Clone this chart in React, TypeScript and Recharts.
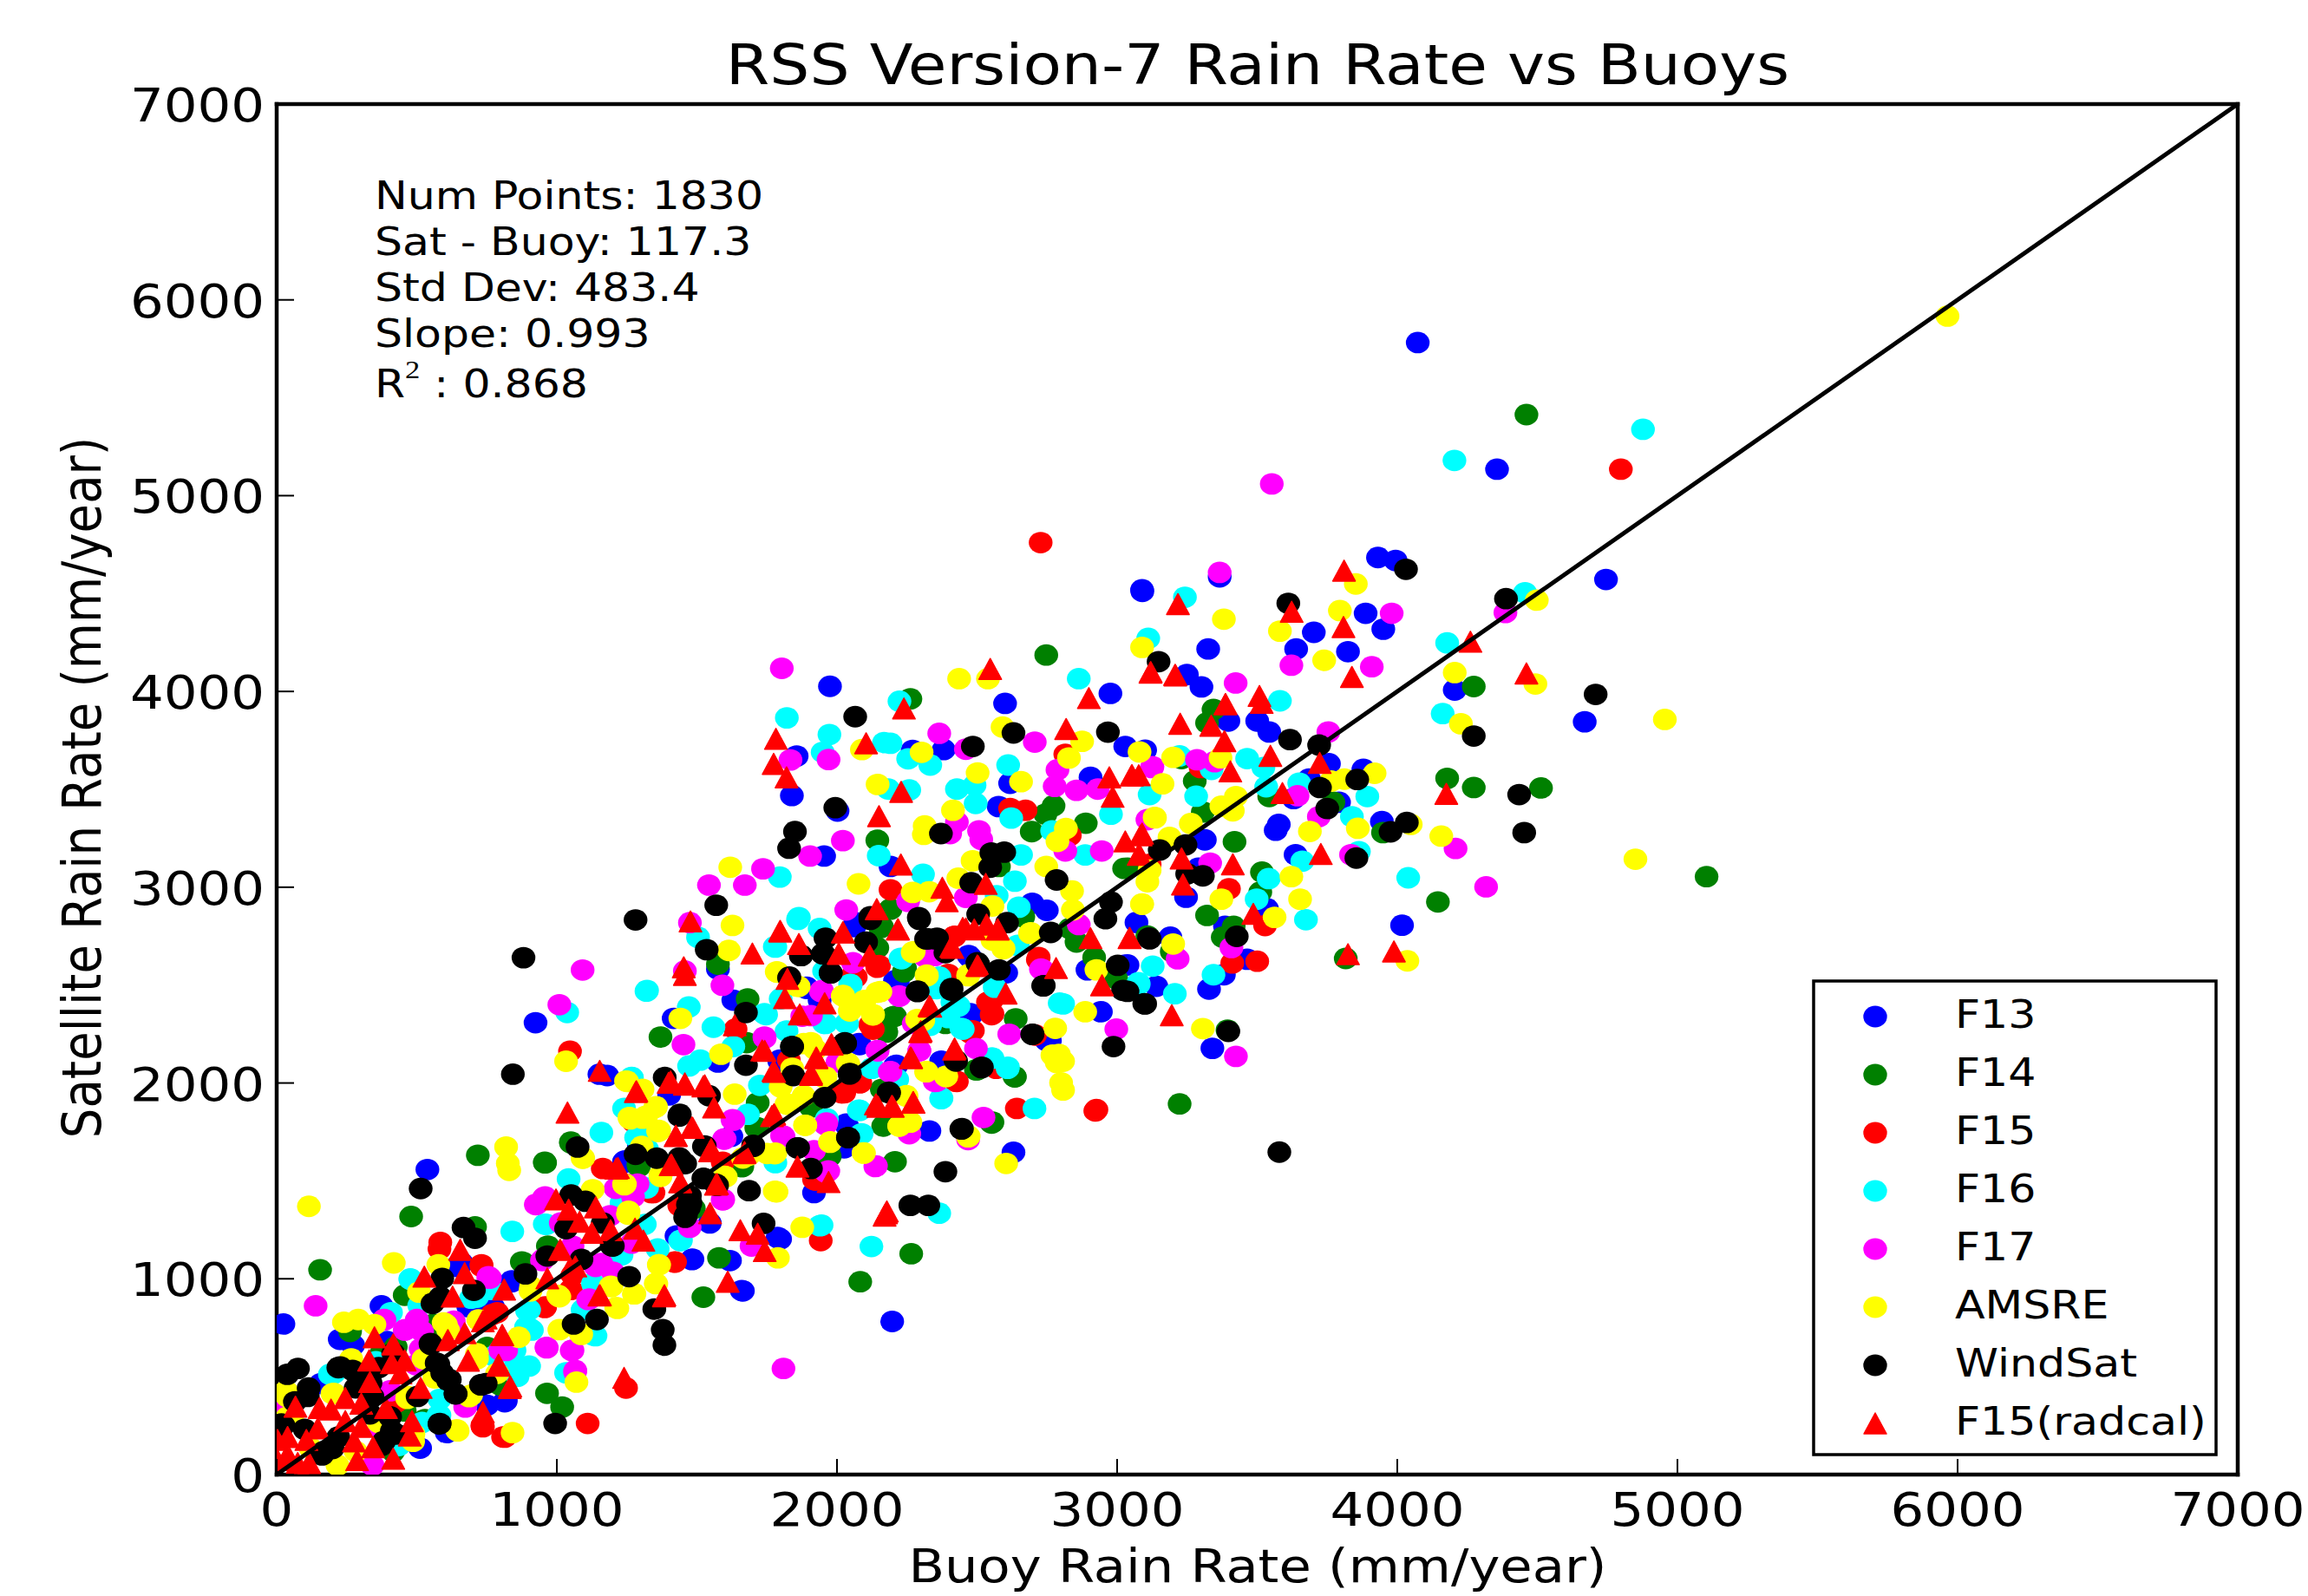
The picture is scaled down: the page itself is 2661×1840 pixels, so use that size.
import React from "react";
import { ScatterChart, Scatter, XAxis, YAxis, Customized } from "recharts";

type Pt = [number, number];

const axisTicks = [0, 1000, 2000, 3000, 4000, 5000, 6000, 7000];
const statLines = ["Num Points: 1830", "Sat - Buoy: 117.3", "Std Dev: 483.4", "Slope: 0.993"];
const diagonal = [{ x: 0, y: 0 }, { x: 7000, y: 7000 }];

const f13: Pt[] = [
  [4073,5782],[4356,5135],[3931,4684],[3994,4669],[4745,4572],[3090,4511],[3366,4585],[3089,4519],[3887,4399],[3950,4318],[3702,4302],[3639,4217],[3824,4203],[3325,4217],[3249,4086],[3301,4023],[3397,3849],[3500,3849],[3543,3793],[4205,4007],[4669,3845],[3100,3700],[3756,3631],[3879,3602],[3685,3552],[3630,3453],[3792,3434],[3577,3321],[3566,3291],[3313,3242],[3290,3097],[3246,2949],[3945,3335],[3637,3166],[3535,2890],[3069,2820],[3190,2745],[3385,2800],[4017,2806],[3464,2632],[3037,2603],[3140,2494],[3381,2553],[3328,2480],[3340,2177],
  [1975,4026],[2600,3939],[2976,3990],[1856,3670],[1839,3468],[1954,3159],[2270,3699],[2381,3703],[2618,3531],[2577,3412],[2905,3561],[3029,3719],[2191,3106],[2002,3389],[1417,2330],[1575,2582],[1630,2423],[2065,2819],[2697,2918],[2749,2882],[2476,2641],[2476,2354],[2942,2364],[2894,2578],[3025,2601],[2207,2522],[1891,2483],[2081,2196],[2207,2087],[2373,2101],[1796,2117],[1575,2107],[1401,1939],[2330,1755],[2033,1790],[2017,1672],[2630,1646],[2760,2216],[1918,1440],[1243,1602],[1180,2038],
  [538,1558],[924,2308],[1152,2045],[24,769],[374,862],[231,692],[273,661],[814,372],[512,135],[613,223],[756,871],[839,985],[660,1081],[1240,1598],[225,691],[158,465],[643,1063],[684,857],[751,354],[395,679],[607,214],
  [2197,782],[1660,940],[1482,1098],[1797,1203],[1484,1100],[1618,1093],[1664,938],[1546,1285],[1427,1219],[1788,1211],[1241,1595],[1293,1684],[1623,1728],[818,377],[839,990],[772,857],
  [2062,2799],[1892,2489],[2217,2518],[2470,2651],[2480,2349],[2604,2563],[2748,2216],[2036,1780],[2212,2090],[2372,2112],[1794,2112],[2078,2201],[1938,2422],[2026,1669],
];

const f14: Pt[] = [
  [4461,5414],[3344,3908],[3321,3839],[3230,3657],[3277,3542],[3543,3463],[3306,3384],[3772,3434],[3419,3232],[4273,4025],[4178,3556],[4273,3509],[4513,3507],[3949,3279],[3517,3077],[3511,2975],[3321,2856],[3416,2800],[3377,2745],[3195,2672],[3108,2751],[4145,2925],[3816,2636],[5104,3054],[3394,2270],[3037,3097],
  [2747,4186],[2262,3962],[2144,3240],[2773,3416],[2744,3373],[2888,3327],[2695,3284],[3025,3096],[2578,3106],[2160,2799],[2191,2888],[1575,2607],[1681,2429],[1370,2235],[2199,2338],[2175,2265],[2239,2568],[2144,2690],[2665,2849],[2855,2720],[2918,2641],[2997,2532],[2831,2789],[2638,2328],[1678,2206],[2496,2067],[2634,2032],[1717,1899],[1907,1879],[1712,1771],[2168,1784],[2555,1800],[3223,1893],[2207,1598],[1970,1642],[1291,1583],[1662,1573],[2160,1968],
  [718,1631],[155,1046],[480,1318],[957,1595],[1051,1694],[473,924],[262,731],[881,1081],[965,415],[1019,345],[708,1265],[1523,906],[1579,1107],[2083,985],[425,652],[457,916],[374,620],[416,118],[751,650],[529,281],[457,325],[798,458],[560,768],
  [2265,1128],[1050,1698],[958,1592],[875,1086],[968,1167],[1293,1573],[1489,1359],[1659,1573],[1716,1772],
  [2155,2792],[2139,2688],[2243,2585],[2207,2341],[2176,2260],[2635,2031],[2501,2068],[2165,1780],[2552,1795],[1974,1625],[1907,1876],[2170,1957],[2387,2304],
];

const f15: Pt[] = [
  [4798,5135],[2727,4760],[2922,1857],[3298,3611],[3399,2992],[3528,2804],[3411,2613],[3500,2622],[3116,3117],
  [2191,2987],[2618,3402],[2673,3393],[2831,3264],[2815,3679],[2420,2750],[2405,2512],[2720,2641],[2539,2413],[2555,2354],[2428,2008],[2081,2002],[2017,1949],[2642,1870],[2926,1864],[2057,2552],[2144,2591],[2128,2275],[2476,2255],[1923,1504],[1338,1444],[1275,1800],[1828,2117],[1638,2275],
  [1047,2162],[584,1186],[731,1072],[1247,442],[734,249],[814,191],[1110,261],[1164,1563],[957,853],[1942,1195],[1420,1085],[1337,1440],[770,818],[581,1152],[731,1063],[736,244],[808,192],[787,827],[426,369],[13,236],
  [1345,1440],[1422,1086],[958,857],[1050,945],[1056,1019],[1592,1595],[1437,1374],
  [2418,2747],[2717,2629],[2150,2600],[2067,2541],[2552,2422],[2552,2349],[2119,2297],[2485,2267],[2423,2009],[2083,2002],[2026,1950],[1918,1507],[2397,2555],[2707,2245],[2568,2075],
];

const f16: Pt[] = [
  [4877,5339],[4204,5180],[4456,4504],[4178,4248],[3242,4481],[3111,4271],[4162,3887],[3581,3952],[3223,3671],[3337,3602],[3464,3657],[3522,3611],[3532,3513],[3650,3532],[3116,3473],[3282,3465],[3838,3360],[3893,3463],[3863,3182],[3661,3133],[3541,3044],[3498,2939],[3674,2834],[4039,3048],[3127,2597],[3344,2553],[3077,2504],[3206,2456],
  [2863,4065],[2223,3950],[1821,3865],[1973,3780],[1949,3689],[2168,3739],[2191,3735],[2254,3656],[2333,3624],[2611,3624],[2428,3501],[2491,3521],[2495,3428],[2183,3501],[2258,3497],[2622,3353],[2978,3373],[2768,3288],[2886,3165],[2149,3161],[2657,3165],[1796,3052],[2307,3066],[2635,3031],[2570,2957],[2649,2898],[1864,2845],[1938,2789],[1504,2744],[1780,2694],[1322,2473],[2231,2635],[1954,2572],[2049,2502],[1471,2388],[1741,2354],[1559,2285],[1820,2265],[1954,2305],[2033,2305],[2412,2413],[2397,2334],[2444,2279],[2349,2483],[2807,2404],[3076,2512],[1630,2186],[1512,2117],[1472,2087],[1725,1988],[2128,2077],[2215,2018],[2081,1860],[2373,1923],[2705,1870],[2610,2081],[2555,2127],[1682,1840],[2088,1741],[1780,1593],[1322,1662],[1267,2028],[1322,1464],[1283,1721],[2333,2295],[2365,1335],
  [1037,2360],[1320,2469],[1159,1747],[1268,2027],[1042,1510],[841,1242],[477,999],[408,827],[957,1279],[894,836],[901,748],[853,555],[1033,520],[577,302],[756,958],[1240,1870],[1945,1274],[1440,1195],[190,512],[715,906],[1129,713],[1129,976],[478,997],[204,517],[509,864],[694,901],[581,303],[519,266],[436,148],[354,576],[777,605],[581,384],
  [2123,1165],[1939,1271],[901,842],[890,753],[849,635],[901,554],[860,502],[1092,842],[1138,709],[911,738],[963,1278],[767,945],[1231,1122],[1360,1152],[1314,1278],[1443,1196],[1231,1388],[1293,1728],[1293,1477],
  [1778,2696],[1861,2836],[2227,2637],[1747,2349],[1959,2304],[2036,2304],[2047,2504],[2434,2393],[2398,2341],[2449,2275],[2563,2489],[2609,2075],[2552,2127],[2372,1920],[2078,1861],[2124,2075],[1964,1817],[2356,2482],[1799,2430],[2795,2408],[2645,2703],[2366,2541],
];

const f17: Pt[] = [
  [3552,5060],[3366,4608],[3980,4399],[3622,4134],[3909,4126],[3423,4043],[3754,3793],[4386,4403],[3124,3611],[3285,3651],[3348,3641],[3644,3467],[3720,3360],[3108,3345],[4208,3198],[3332,3123],[3835,3166],[4317,3002],[3408,2692],[3216,2634],[3424,2136],
  [1803,4118],[2365,3786],[2706,3741],[1834,3650],[1970,3652],[2460,3705],[2787,3600],[2777,3515],[2855,3495],[2931,3501],[3126,3616],[2428,3333],[2507,3288],[2515,3244],[2404,3274],[2815,3185],[2945,3185],[2021,3238],[1904,3159],[1543,3011],[1671,3011],[1736,3094],[2033,2884],[2254,2928],[2460,2948],[1475,2819],[1457,2572],[1591,2499],[2349,2651],[2223,2443],[1946,2473],[1907,2344],[1452,2196],[1741,2235],[2615,2249],[2496,2176],[2294,2166],[2144,2166],[2188,2057],[2349,2008],[2002,2107],[2863,2809],[2728,2582],[2997,2275],[2523,1824],[2258,1741],[2468,1711],[1630,1810],[1599,1715],[1962,1796],[1804,1731],[2139,1577],[1962,1543],[1594,1405],[1251,1484],
  [1092,2577],[1009,2400],[139,862],[383,792],[501,792],[459,740],[954,1414],[925,1379],[1809,542],[964,647],[1053,634],[1065,524],[1627,1812],[1247,1467],[756,1011],[950,1099],[342,48],[673,345],[1116,897],[819,634],[1157,1072],[385,790],[500,790],[457,738],[519,731],[514,642],[756,1004],[632,783],[674,354],[333,59],[18,354],[405,428],[798,635],[498,561],[369,236],
  [927,1381],[958,1418],[947,1093],[761,1004],[1112,894],[963,650],[1056,635],[816,643],[1066,532],[1159,1078],[1200,1034],[1138,1063],[1474,1263],[1597,1713],[1592,1403],[1210,1462],[1288,1484],[1272,1418],[1695,1167],[1267,1182],[1190,1322],[1014,1285],[1056,1167],
  [2222,2445],[1943,2467],[1876,2341],[2057,2614],[2315,2644],[2274,2304],[2145,2164],[2294,2164],[2191,2058],[1809,1728],[1742,2230],[2733,2578],[2356,2009],[2137,1573],[1969,1551],[1959,1787],[2010,2112],[1918,1654],
];

const amsre: Pt[] = [
  [5964,5917],[4498,4466],[4493,4038],[4955,3857],[4850,3143],[4036,2624],[3852,4549],[3381,4369],[3795,4413],[3581,4308],[3739,4159],[3089,4225],[4205,4096],[3080,3691],[3200,3663],[3369,3661],[3162,3528],[3424,3463],[3372,3414],[3413,3390],[3135,3354],[3263,3325],[3187,3255],[3764,3542],[3811,3552],[3919,3582],[4227,3835],[3688,3285],[3859,3301],[4048,3321],[4157,3261],[3622,3054],[3653,2939],[3116,3087],[3108,3028],[3089,2913],[3372,2939],[3562,2846],[3200,2710],[3306,2278],
  [2436,4065],[2539,4065],[2591,3818],[2875,3745],[2502,3584],[2657,3539],[2414,3393],[2145,3525],[2089,3703],[2302,3689],[2828,3660],[3134,3357],[2313,3313],[2310,3270],[2817,3300],[2787,3234],[2484,3135],[1619,3102],[2077,3017],[2747,3106],[2433,3046],[2270,2973],[2329,2977],[2555,2904],[1627,2805],[1614,2677],[2839,2981],[2842,2884],[3089,2914],[2689,2765],[2594,2686],[2555,2730],[2270,2667],[2321,2548],[2468,2548],[1785,2568],[1863,2493],[2022,2447],[2144,2463],[2096,2413],[2046,2368],[2128,2348],[1441,2330],[2926,2578],[2779,2279],[2886,2364],[2286,2324],[1907,2206],[2038,2101],[1586,2147],[2792,2146],[2807,2111],[2807,1964],[1251,2008],[1306,1968],[1354,1879],[1259,1824],[1306,1820],[1362,1757],[1635,1943],[2318,2057],[2389,2032],[2247,1933],[1820,1893],[1886,1784],[2223,1781],[2262,1800],[1975,1697],[1780,1642],[2096,1642],[2604,1589],[2468,1725],[1599,1523],[1784,1444],[1243,1484],[1256,1345],[1370,1523],[1686,1632],[1954,2028],
  [115,1370],[418,1081],[819,1673],[825,1589],[830,1554],[1033,2111],[240,778],[291,792],[349,766],[508,932],[1092,1616],[577,1072],[1247,2010],[1351,1875],[1261,1822],[1362,1752],[1005,915],[908,959],[1240,1484],[1254,1330],[1192,962],[1275,923],[1212,853],[1364,1072],[1353,976],[1789,1107],[1009,740],[1085,722],[1070,472],[842,214],[646,223],[864,701],[715,617],[604,766],[563,494],[687,398],[487,170],[466,389],[266,591],[204,415],[217,48],[38,398],[38,293],[121,135],[596,775],[720,790],[266,569],[199,413],[34,428],[55,281],[467,399],[524,591],[643,229],[488,207],[282,118],[694,406],[364,266],[715,591],[612,738],
  [1876,1263],[1094,1617],[1128,1455],[1241,1480],[1255,1332],[1365,1071],[1355,975],[1195,960],[1277,923],[1216,849],[906,938],[1009,908],[1087,716],[787,517],[1262,1817],[1319,1831],[1365,1758],[1303,1676],[1370,1529],[1603,1521],[1664,1617],[1778,1447],[1778,1639],
  [2021,2445],[2155,2467],[2047,2371],[2129,2349],[2098,2422],[2274,2671],[2320,2551],[1787,2566],[1856,2496],[2594,2688],[2692,2767],[2470,2555],[2308,2319],[1887,1784],[1976,1699],[1750,1640],[2095,1643],[1783,1445],[2222,1780],[2253,1809],[2248,1935],[2320,2058],[2390,2035],[2041,2097],[1959,2031],[1799,1979],[1825,1891],[1881,1935],[1881,2201],[1923,2171],[1840,2075],[2769,2142],[2784,2105],[2800,2001],[2470,1728],
];

const windsat: Pt[] = [
  [3579,1647],[4708,3985],[4031,4624],[4388,4474],[3611,4450],[3148,4152],[3617,3754],[3721,3726],[4273,3772],[3857,3550],[3724,3509],[3750,3402],[4435,3473],[4453,3279],[4034,3331],[3976,3283],[3854,3149],[3244,3216],[3152,3190],[3250,3068],[3306,3058],[3114,2741],[3427,2749],[3097,2405],[3037,2468],[3397,2264],
  [2065,3871],[2630,3788],[2485,3719],[2967,3792],[1994,3406],[1850,3284],[1829,3199],[2371,3274],[2551,3175],[2597,3179],[2547,3102],[2784,3037],[1569,2908],[1281,2833],[2479,3023],[2504,2862],[2607,2819],[2978,2924],[2958,2839],[2763,2769],[2292,2845],[2119,2849],[1535,2681],[1959,2740],[2104,2720],[1872,2651],[1951,2661],[1978,2562],[2318,2736],[2357,2740],[2389,2670],[2504,2607],[2578,2578],[3116,2736],[3002,2601],[3021,2473],[3100,2404],[2738,2497],[2409,2483],[2288,2469],[1829,2536],[1675,2360],[2028,2206],[1840,2186],[1675,2091],[2517,2081],[2698,2249],[2423,2117],[2987,2186],[1844,2038],[2046,2048],[2185,1953],[1956,1925],[1385,2028],[1543,1935],[1439,1840],[1528,1678],[1701,1682],[1859,1668],[2040,1721],[2446,1767],[1907,1563],[1281,1636],[1357,1616],[1441,1612],[1523,1513],[1567,1484],[1686,1450],[1475,1424],[1472,1365],[2387,1547],[2262,1375],[2326,1375],
  [881,2640],[843,2045],[514,1461],[667,1262],[708,1207],[591,1002],[584,906],[704,941],[556,874],[227,550],[76,542],[38,512],[114,442],[1074,1673],[1051,1428],[1102,1396],[1033,1256],[966,1116],[1088,1099],[888,1025],[1196,1169],[1258,1011],[1461,1326],[1468,1379],[1738,1283],[1060,769],[1143,792],[1348,845],[1378,740],[1384,661],[994,261],[729,459],[639,412],[582,261],[549,669],[577,564],[618,485],[286,521],[342,398],[411,223],[383,170],[197,135],[162,100],[65,372],[17,258],[100,231],[335,468],[111,399],[24,251],[220,546],[271,532],[364,546],[282,443],[323,428],[416,620],[550,665],[571,569],[591,517],[612,480],[638,413],[730,458],[503,399],[581,258],[405,295],[426,207],[374,148],[199,133],[168,118],[220,192],[333,310],
  [1164,1285],[1200,1167],[1437,1617],[1458,1588],[1525,1511],[1477,1388],[1458,1314],[1525,1676],[1701,1676],[1572,1477],[746,465],[1437,1831],
  [2119,2836],[2294,2836],[2103,2718],[1871,2651],[1949,2659],[1977,2563],[1830,2541],[2325,2736],[2351,2736],[2387,2666],[2501,2614],[2408,2474],[2287,2467],[2736,2496],[1839,2186],[2029,2201],[2045,2046],[2425,2112],[2516,2078],[2186,1950],[2697,2248],[2039,1721],[2444,1765],[1861,1669],
];

const f15Radcal: Pt[] = [
  [3810,4617],[3217,4446],[3623,4407],[3808,4329],[3119,4096],[3208,4082],[3838,4074],[4261,4254],[4461,4092],[3508,3977],[3516,3942],[3386,3934],[3225,3835],[3336,3825],[3383,3746],[3547,3671],[3404,3592],[3723,3635],[3053,3572],[3077,3572],[3590,3481],[4175,3477],[3084,3265],[3077,3166],[3230,3147],[3413,3117],[3727,3170],[3235,3014],[3486,2864],[3045,2741],[3195,2346],[3824,2658],[3988,2672],
  [2547,4115],[3120,4099],[3207,4085],[2899,3966],[2239,3913],[1782,3758],[2104,3735],[1774,3630],[1820,3561],[2818,3808],[2229,3487],[2150,3363],[3387,3936],[2972,3561],[3052,3571],[2984,3462],[3029,3234],[3089,3274],[3079,3169],[2228,3116],[2376,2997],[2392,2928],[2531,3017],[2142,2888],[1477,2825],[1798,2773],[2022,2769],[2218,2785],[1864,2710],[1698,2661],[2006,2661],[2117,2651],[2460,2789],[2534,2809],[2574,2785],[2412,2690],[2905,2740],[3044,2740],[1453,2591],[1457,2552],[2504,2597],[2782,2587],[1823,2532],[1814,2433],[1956,2407],[1867,2350],[1635,2295],[2333,2390],[2602,2457],[2946,2499],[2299,2265],[1981,2196],[1733,2166],[1927,2127],[1908,2048],[1776,2057],[2265,2127],[2420,2176],[1528,1988],[1457,1998],[1406,2008],[1284,1958],[1561,1875],[1776,1840],[1425,1731],[1485,1771],[2147,1879],[2199,1879],[2273,1899],[1551,1662],[1670,1642],[1859,1573],[1409,1583],[1441,1494],[1572,1484],[1970,1494],[1212,1563],[2175,1335],[1547,1335],
  [1153,2062],[1038,1849],[1282,1954],[997,1405],[1042,1353],[1081,1291],[1139,1365],[1125,1235],[1192,1248],[1012,1148],[966,1002],[1047,1055],[655,1148],[527,1011],[671,1029],[628,909],[812,945],[1279,1256],[1309,1195],[1424,1729],[1482,1773],[1406,1580],[1440,1493],[1547,1651],[1568,1481],[1523,1983],[1399,2001],[1457,1992],[1655,1248],[1717,1230],[1742,1142],[1610,985],[1382,910],[1152,915],[1240,494],[736,319],[832,442],[791,556],[805,713],[736,783],[671,722],[611,687],[683,582],
  [67,347],[153,340],[194,332],[245,391],[302,362],[245,273],[147,236],[106,177],[39,192],[3,177],[3,74],[75,59],[116,59],[302,244],[276,170],[344,140],[287,74],[416,81],[390,340],[483,273],[475,199],[514,443],[333,473],[330,583],[349,701],[416,665],[411,569],[457,583],[442,517],[39,103],
  [2170,1323],[1218,1566],[1066,1063],[1154,916],[1384,916],[1670,1647],[805,712],[792,561],[834,450],[746,797],[1768,1831],
  [1797,2777],[2021,2770],[2007,2659],[2217,2784],[2408,2696],[2501,2600],[2573,2784],[2490,2784],[2449,2792],[2330,2393],[2297,2260],[2263,2130],[2418,2171],[1980,2198],[1926,2130],[1907,2041],[1773,2061],[1775,1839],[2139,1891],[2196,1883],[2272,1903],[2178,1344],[1742,2164],
];

const series = [
  { name: "F13", points: f13, color: "#0000ff", triangle: false },
  { name: "F14", points: f14, color: "#008000", triangle: false },
  { name: "F15", points: f15, color: "#ff0000", triangle: false },
  { name: "F16", points: f16, color: "#00ffff", triangle: false },
  { name: "F17", points: f17, color: "#ff00ff", triangle: false },
  { name: "AMSRE", points: amsre, color: "#ffff00", triangle: false },
  { name: "WindSat", points: windsat, color: "#000000", triangle: false },
  { name: "F15(radcal)", points: f15Radcal, color: "#ff0000", triangle: true },
];

const FONT = "DejaVu Sans";
const STRETCH = 1.15; // the source image is wider than it was drawn

function Wide({ x, y, size, anchor = "start", children }: any) {
  return (
    <text
      transform={`translate(${x},${y}) scale(${STRETCH},1)`}
      fontFamily={FONT}
      fontSize={size}
      textAnchor={anchor}
      fill="#000"
    >
      {children}
    </text>
  );
}

const Dot = ({ cx, cy, fill }: any) => <ellipse cx={cx} cy={cy} rx={13.7} ry={12.4} fill={fill} />;

const Tri = ({ cx, cy, fill }: any) => (
  <path
    d={`M${cx},${cy - 12} L${cx + 13},${cy + 12} L${cx - 13},${cy + 12} Z`}
    fill={fill}
    stroke={fill}
    strokeWidth={1.5}
    strokeLinejoin="round"
  />
);

const BottomTick = ({ x, y, payload }: any) => (
  <g>
    <line x1={x} x2={x} y1={y} y2={y - 18} stroke="#000" strokeWidth={2} />
    <Wide x={x} y={y + 59} size={53} anchor="middle">{payload.value}</Wide>
  </g>
);
const TopTick = ({ x, y }: any) => <line x1={x} x2={x} y1={y} y2={y + 18} stroke="#000" strokeWidth={2} />;
const LeftTick = ({ x, y, payload }: any) => (
  <g>
    <line x1={x} x2={x + 20} y1={y} y2={y} stroke="#000" strokeWidth={2} />
    <Wide x={x - 14} y={y + 20} size={53} anchor="end">{payload.value}</Wide>
  </g>
);
const RightTick = ({ x, y }: any) => <line x1={x} x2={x - 20} y1={y} y2={y} stroke="#000" strokeWidth={2} />;

const axisLine = { stroke: "#000", strokeWidth: 4.5, strokeLinecap: "square" as const };

function Annotations() {
  return (
    <g>
      <Wide x={1450} y={97} size={63.2} anchor="middle">RSS Version-7 Rain Rate vs Buoys</Wide>
      <Wide x={1450} y={1824} size={52.8} anchor="middle">Buoy Rain Rate (mm/year)</Wide>
      <text
        transform={`translate(116,908) rotate(-90) scale(1,${STRETCH})`}
        fontFamily={FONT}
        fontSize={54.5}
        textAnchor="middle"
      >
        Satellite Rain Rate (mm/year)
      </text>
      {statLines.map((line, i) => (
        <Wide key={line} x={432} y={240.5 + i * 53} size={43.9}>{line}</Wide>
      ))}
      <Wide x={432} y={458} size={43.9}>
        R<tspan fontFamily="Liberation Serif" fontSize={30} dy={-22}>2</tspan>
        <tspan dy={22}> : 0.868</tspan>
      </Wide>
      <rect x={2091} y={1131} width={464} height={546} fill="#fff" stroke="#000" strokeWidth={3.5} />
      {series.map((s, i) => {
        const cy = 1172 + i * 67;
        return (
          <g key={s.name}>
            {s.triangle ? <Tri cx={2162} cy={cy} fill={s.color} /> : <Dot cx={2162} cy={cy} fill={s.color} />}
            <Wide x={2254} y={cy + 12.5} size={44}>{s.name}</Wide>
          </g>
        );
      })}
    </g>
  );
}

export default function App() {
  return (
    <div style={{ position: "absolute", left: 0, top: 0, background: "#fff" }}>
      <ScatterChart width={2661} height={1840} margin={{ top: 0, right: 0, bottom: 0, left: 0 }}>
        <XAxis
          xAxisId="bottom"
          type="number"
          dataKey="x"
          domain={[0, 7000]}
          ticks={axisTicks}
          interval={0}
          height={140}
          allowDataOverflow
          tickSize={0}
          tickMargin={0}
          tickLine={false}
          axisLine={axisLine}
          tick={BottomTick}
        />
        <XAxis
          xAxisId="top"
          orientation="top"
          type="number"
          dataKey="x"
          domain={[0, 7000]}
          ticks={axisTicks}
          interval={0}
          height={120}
          tickSize={0}
          tickMargin={0}
          tickLine={false}
          axisLine={axisLine}
          tick={TopTick}
        />
        <YAxis
          yAxisId="left"
          type="number"
          dataKey="y"
          domain={[0, 7000]}
          ticks={axisTicks}
          interval={0}
          width={319}
          allowDataOverflow
          tickSize={0}
          tickMargin={0}
          tickLine={false}
          axisLine={axisLine}
          tick={LeftTick}
        />
        <YAxis
          yAxisId="right"
          orientation="right"
          type="number"
          dataKey="y"
          domain={[0, 7000]}
          ticks={axisTicks}
          interval={0}
          width={81}
          tickSize={0}
          tickMargin={0}
          tickLine={false}
          axisLine={axisLine}
          tick={RightTick}
        />
        {series.map((s) => (
          <Scatter
            key={s.name}
            name={s.name}
            xAxisId="bottom"
            yAxisId="left"
            data={s.points.map(([x, y]) => ({ x, y }))}
            fill={s.color}
            shape={s.triangle ? Tri : Dot}
            isAnimationActive={false}
          />
        ))}
        <Scatter
          xAxisId="bottom"
          yAxisId="left"
          data={diagonal}
          line={{ stroke: "#000", strokeWidth: 5 }}
          shape={() => null}
          isAnimationActive={false}
        />
        <Customized component={Annotations} />
      </ScatterChart>
    </div>
  );
}
